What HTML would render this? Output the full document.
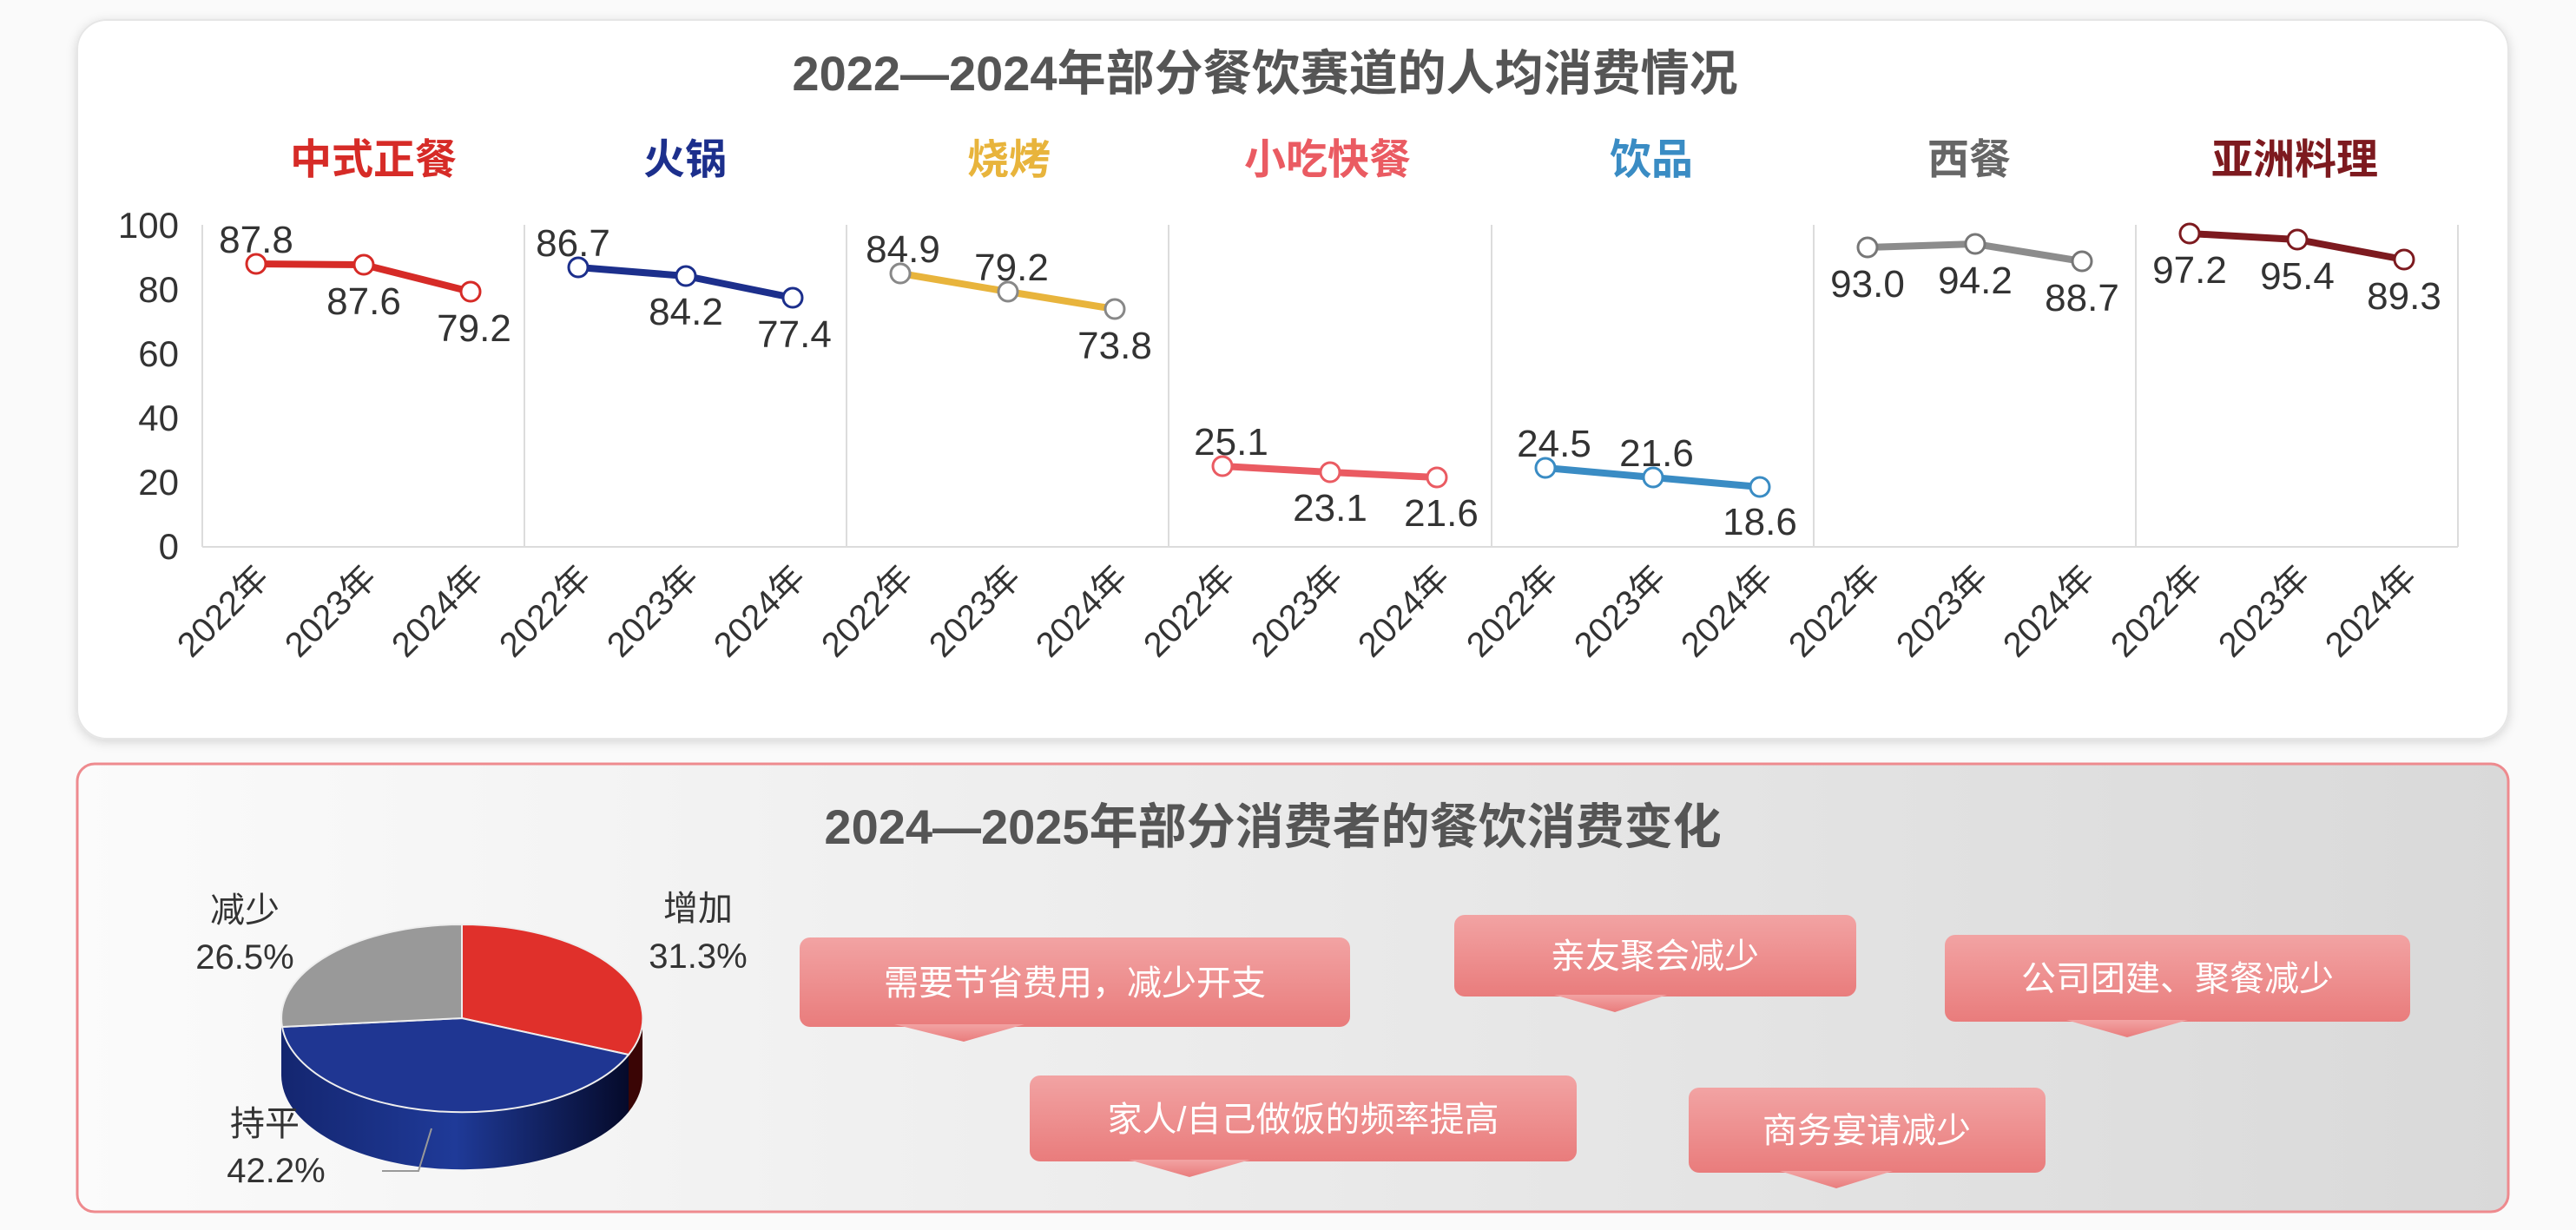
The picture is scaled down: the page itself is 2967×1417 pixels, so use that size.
<!DOCTYPE html>
<html><head><meta charset="utf-8"><style>
html,body{margin:0;padding:0;background:#fafafa;}
svg{display:block;font-family:"Liberation Sans","Noto Sans CJK SC",sans-serif;}
</style></head><body>
<svg width="2967" height="1417" viewBox="0 0 2967 1417" xmlns="http://www.w3.org/2000/svg">
<defs>
<filter id="sh" x="-5%" y="-5%" width="110%" height="110%"><feDropShadow dx="0" dy="3" stdDeviation="6" flood-color="#000" flood-opacity="0.15"/></filter>
<linearGradient id="bg2" x1="0" y1="0" x2="1" y2="0"><stop offset="0" stop-color="#fbfbfb"/><stop offset="1" stop-color="#d9d9d9"/></linearGradient>
<linearGradient id="cb" x1="0" y1="0" x2="0" y2="1"><stop offset="0" stop-color="#f2a3a3"/><stop offset="1" stop-color="#e97c7c"/></linearGradient>
<linearGradient id="bs" x1="0" y1="0" x2="1" y2="0"><stop offset="0" stop-color="#142670"/><stop offset="0.5" stop-color="#1f3a98"/><stop offset="1" stop-color="#050a2a"/></linearGradient>
</defs>
<rect x="89" y="23" width="2800" height="828" rx="34" fill="#fff" stroke="#e6e6e6" stroke-width="2" filter="url(#sh)"/>
<text x="1457" y="104" text-anchor="middle" font-size="56" font-weight="bold" fill="#555">2022—2024年部分餐饮赛道的人均消费情况</text>
<g font-size="48" font-weight="bold" text-anchor="middle">
<text x="430" y="200" fill="#d62b27">中式正餐</text>
<text x="789" y="200" fill="#1c2f8c">火锅</text>
<text x="1162" y="200" fill="#e8b43c">烧烤</text>
<text x="1529" y="200" fill="#ea5b62">小吃快餐</text>
<text x="1902" y="200" fill="#3a8cc4">饮品</text>
<text x="2268" y="200" fill="#666">西餐</text>
<text x="2643" y="200" fill="#7d1a1f">亚洲料理</text>
</g>
<g stroke="#dcdcdc" stroke-width="2">
<line x1="233" y1="259" x2="233" y2="630"/><line x1="604" y1="259" x2="604" y2="630"/><line x1="975" y1="259" x2="975" y2="630"/><line x1="1346" y1="259" x2="1346" y2="630"/><line x1="1718" y1="259" x2="1718" y2="630"/><line x1="2089" y1="259" x2="2089" y2="630"/><line x1="2460" y1="259" x2="2460" y2="630"/><line x1="2831" y1="259" x2="2831" y2="630"/>
<line x1="233" y1="630" x2="2831" y2="630"/>
</g>
<g font-size="42" fill="#333" text-anchor="end">
<text x="206" y="274">100</text><text x="206" y="348">80</text><text x="206" y="422">60</text><text x="206" y="496">40</text><text x="206" y="570">20</text><text x="206" y="644">0</text>
</g>
<g stroke-width="8" fill="none" stroke-linejoin="round">
<polyline points="295,304 419,305 542,336" stroke="#d62b27"/>
<polyline points="666,308 790,318 913,343" stroke="#1c2f8c"/>
<polyline points="1037,315 1161,336 1284,356" stroke="#e8b43c"/>
<polyline points="1408,537 1532,544 1655,550" stroke="#ea5b62"/>
<polyline points="1780,539 1904,550 2027,561" stroke="#3a8cc4"/>
<polyline points="2151,285 2275,281 2398,301" stroke="#8c8c8c"/>
<polyline points="2522,269 2646,276 2769,299" stroke="#7d1a1f"/>
</g>
<g fill="#fff" stroke-width="3">
<g stroke="#d62b27"><circle cx="295" cy="304" r="11"/><circle cx="419" cy="305" r="11"/><circle cx="542" cy="336" r="11"/></g>
<g stroke="#1c2f8c"><circle cx="666" cy="308" r="11"/><circle cx="790" cy="318" r="11"/><circle cx="913" cy="343" r="11"/></g>
<g stroke="#888"><circle cx="1037" cy="315" r="11"/><circle cx="1161" cy="336" r="11"/><circle cx="1284" cy="356" r="11"/></g>
<g stroke="#ea5b62"><circle cx="1408" cy="537" r="11"/><circle cx="1532" cy="544" r="11"/><circle cx="1655" cy="550" r="11"/></g>
<g stroke="#3a8cc4"><circle cx="1780" cy="539" r="11"/><circle cx="1904" cy="550" r="11"/><circle cx="2027" cy="561" r="11"/></g>
<g stroke="#777"><circle cx="2151" cy="285" r="11"/><circle cx="2275" cy="281" r="11"/><circle cx="2398" cy="301" r="11"/></g>
<g stroke="#7d1a1f"><circle cx="2522" cy="269" r="11"/><circle cx="2646" cy="276" r="11"/><circle cx="2769" cy="299" r="11"/></g>
</g>
<g font-size="44" fill="#333" text-anchor="middle">
<text x="295" y="291">87.8</text><text x="419" y="362">87.6</text><text x="546" y="393">79.2</text>
<text x="660" y="295">86.7</text><text x="790" y="374">84.2</text><text x="915" y="400">77.4</text>
<text x="1040" y="302">84.9</text><text x="1165" y="323">79.2</text><text x="1284" y="413">73.8</text>
<text x="1418" y="524">25.1</text><text x="1532" y="600">23.1</text><text x="1660" y="606">21.6</text>
<text x="1790" y="526">24.5</text><text x="1908" y="537">21.6</text><text x="2027" y="616">18.6</text>
<text x="2151" y="342">93.0</text><text x="2275" y="338">94.2</text><text x="2398" y="358">88.7</text>
<text x="2522" y="326">97.2</text><text x="2646" y="333">95.4</text><text x="2769" y="356">89.3</text>
</g>
<g font-size="40" fill="#333" text-anchor="end">
<text transform="translate(312,668) rotate(-45)">2022年</text><text transform="translate(436,668) rotate(-45)">2023年</text><text transform="translate(559,668) rotate(-45)">2024年</text>
<text transform="translate(683,668) rotate(-45)">2022年</text><text transform="translate(807,668) rotate(-45)">2023年</text><text transform="translate(930,668) rotate(-45)">2024年</text>
<text transform="translate(1054,668) rotate(-45)">2022年</text><text transform="translate(1178,668) rotate(-45)">2023年</text><text transform="translate(1301,668) rotate(-45)">2024年</text>
<text transform="translate(1425,668) rotate(-45)">2022年</text><text transform="translate(1549,668) rotate(-45)">2023年</text><text transform="translate(1672,668) rotate(-45)">2024年</text>
<text transform="translate(1797,668) rotate(-45)">2022年</text><text transform="translate(1921,668) rotate(-45)">2023年</text><text transform="translate(2044,668) rotate(-45)">2024年</text>
<text transform="translate(2168,668) rotate(-45)">2022年</text><text transform="translate(2292,668) rotate(-45)">2023年</text><text transform="translate(2415,668) rotate(-45)">2024年</text>
<text transform="translate(2539,668) rotate(-45)">2022年</text><text transform="translate(2663,668) rotate(-45)">2023年</text><text transform="translate(2786,668) rotate(-45)">2024年</text>
</g>

<rect x="89" y="880" width="2800" height="516" rx="20" fill="url(#bg2)" stroke="#ee8a8e" stroke-width="3"/>
<text x="1466" y="972" text-anchor="middle" font-size="56" font-weight="bold" fill="#555">2024—2025年部分消费者的餐饮消费变化</text>

<path d="M325,1183 A208,108 0 0,0 724,1215 L724,1281 A208,108 0 0,1 325,1249 Z" fill="url(#bs)"/>
<path d="M324,1173 A208,108 0 0,0 325,1183 L325,1249 A208,108 0 0,1 324,1239 Z" fill="#142670"/>
<path d="M740,1173 A208,108 0 0,1 724,1215 L724,1281 A208,108 0 0,0 740,1239 Z" fill="#3a0505"/>
<path d="M532,1173 L532,1065 A208,108 0 0,1 724,1215 Z" fill="#e0302b" stroke="#eee" stroke-width="2"/>
<path d="M532,1173 L724,1215 A208,108 0 0,1 325,1183 Z" fill="#1f3692" stroke="#eee" stroke-width="2"/>
<path d="M532,1173 L325,1183 A208,108 0 0,1 532,1065 Z" fill="#999" stroke="#eee" stroke-width="2"/>
<polyline points="497,1300 482,1349 440,1349" fill="none" stroke="#999" stroke-width="2"/>
<g font-size="40" fill="#333" text-anchor="middle">
<text x="282" y="1062">减少</text><text x="282" y="1116">26.5%</text>
<text x="804" y="1060">增加</text><text x="804" y="1115">31.3%</text>
<text x="305" y="1308">持平</text><text x="318" y="1362">42.2%</text>
</g>

<g fill="url(#cb)">
<rect x="921" y="1080" width="634" height="103" rx="12"/><polygon points="1030,1180 1180,1180 1110,1200"/>
<rect x="1675" y="1054" width="463" height="94" rx="12"/><polygon points="1790,1146 1920,1146 1860,1166"/>
<rect x="2240" y="1077" width="536" height="100" rx="12"/><polygon points="2380,1175 2520,1175 2450,1195"/>
<rect x="1186" y="1239" width="630" height="99" rx="12"/><polygon points="1300,1336 1440,1336 1370,1356"/>
<rect x="1945" y="1253" width="411" height="98" rx="12"/><polygon points="2050,1349 2180,1349 2115,1369"/>
</g>
<g font-size="40" fill="#fff" text-anchor="middle">
<text x="1238" y="1146">需要节省费用，减少开支</text>
<text x="1906" y="1115">亲友聚会减少</text>
<text x="2508" y="1141">公司团建、聚餐减少</text>
<text x="1501" y="1303">家人/自己做饭的频率提高</text>
<text x="2150" y="1316">商务宴请减少</text>
</g>
</svg>
</body></html>
